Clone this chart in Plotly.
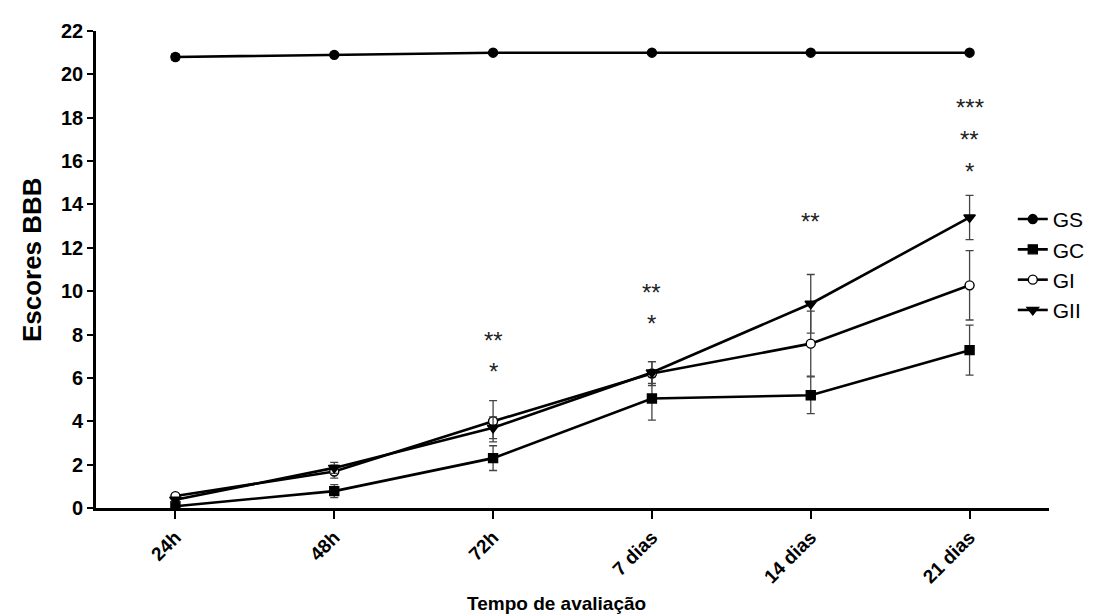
import plotly.graph_objects as go

categories = ["24h", "48h", "72h", "7 dias", "14 dias", "21 dias"]

gs = [20.8, 20.9, 21.0, 21.0, 21.0, 21.0]
gs_err = [0.15, 0.0, 0.0, 0.0, 0.0, 0.0]

gc = [0.08, 0.78, 2.3, 5.05, 5.2, 7.28]
gc_err = [0.1, 0.3, 0.57, 1.0, 0.85, 1.15]

gi = [0.55, 1.68, 4.0, 6.2, 7.58, 10.27]
gi_err = [0.08, 0.3, 0.95, 0.55, 1.5, 1.6]

gii = [0.38, 1.85, 3.7, 6.25, 9.42, 13.4]
gii_err = [0.08, 0.25, 0.5, 0.5, 1.35, 1.02]

star_cat = ["72h", "72h", "7 dias", "7 dias", "14 dias", "21 dias", "21 dias", "21 dias"]
star_y = [7.8, 6.4, 10.05, 8.6, 13.3, 18.55, 17.1, 15.6]
star_txt = ["**", "*", "**", "*", "**", "***", "**", "*"]

y_ticks = list(range(0, 23, 2))

FONT = "Liberation Sans"
ERRC = "#444444"

fig = go.Figure()

def add_series(name, y, err, symbol, color_fill, size):
    fig.add_trace(go.Scatter(
        x=categories, y=y, name=name, mode="lines+markers",
        line=dict(color="black", width=2.6),
        marker=dict(symbol=symbol, size=size,
                    color=color_fill, line=dict(color="black", width=1.4)),
        error_y=dict(type="data", array=err, visible=True, color=ERRC,
                     thickness=1.3, width=4),
    ))

add_series("GS", gs, gs_err, "circle", "black", 9)
add_series("GC", gc, gc_err, "square", "black", 9)
add_series("GI", gi, gi_err, "circle", "white", 9)
add_series("GII", gii, gii_err, "triangle-down", "black", 10)

for c, yv, t in zip(star_cat, star_y, star_txt):
    fig.add_annotation(x=c, y=yv, xref="x", yref="y", text=t, showarrow=False,
                       yshift=-2,
                       font=dict(family=FONT, size=24, color="#222222"))

fig.add_annotation(x=0.483, y=-0.226, xref="paper", yref="paper", yanchor="bottom",
                   text="Tempo de avaliação", showarrow=False,
                   font=dict(family=FONT, size=19, color="black", weight="bold"))
fig.add_annotation(x=-0.067, y=0.52, xref="paper", yref="paper", xanchor="center",
                   text="Escores BBB", textangle=-90, showarrow=False,
                   font=dict(family=FONT, size=26, color="black", weight="bold"))

fig.update_layout(
    width=1094, height=614,
    margin=dict(l=88, r=47, t=21, b=114),
    paper_bgcolor="white", plot_bgcolor="white",
    showlegend=True,
    legend=dict(x=0.962, y=0.648, xanchor="left", yanchor="top",
                font=dict(family=FONT, size=21, color="black"),
                bgcolor="rgba(0,0,0,0)", tracegroupgap=0, itemwidth=30),
    xaxis=dict(
        type="category", range=[-0.5, 5.5], showgrid=False, zeroline=False,
        showline=True, linecolor="black", linewidth=2.6,
        ticks="outside", ticklen=8, tickwidth=2.2, tickcolor="black",
        tickangle=-45,
        tickfont=dict(family=FONT, size=19, color="black", weight="bold"),
    ),
    yaxis=dict(
        range=[0, 22], tickvals=y_ticks, showgrid=False, zeroline=False,
        showline=True, linecolor="black", linewidth=2.6,
        ticks="outside", ticklen=6, tickwidth=2.2, tickcolor="black",
        tickfont=dict(family=FONT, size=20, color="black", weight="bold"),
    ),
)

fig.write_html("out.html")
